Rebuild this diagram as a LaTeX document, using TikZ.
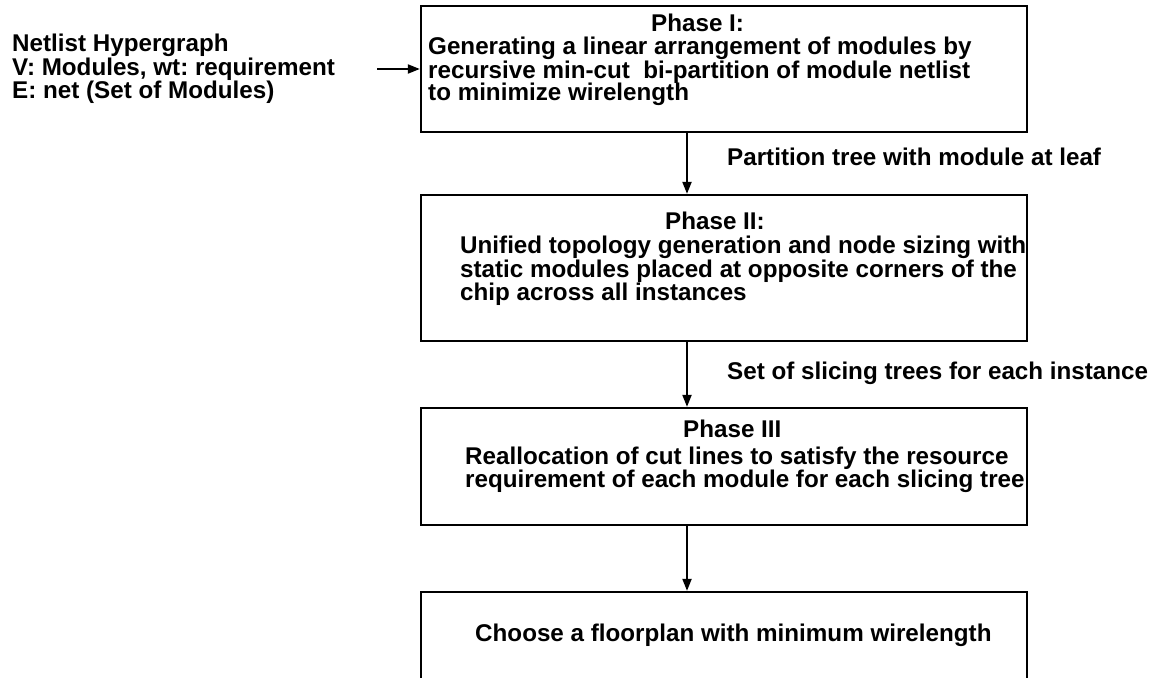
\documentclass[tikz,border=0pt]{standalone}
\usepackage{fontspec}
\setmainfont{Liberation Sans}
\usetikzlibrary{arrows.meta}
\frenchspacing

\tikzset{
  stagebox/.style={draw, line width=2.3pt, minimum width=606pt, inner sep=0pt},
  txt/.style={anchor=base west, inner sep=0pt, font=\bfseries\fontsize{24.2}{23}\selectfont},
  arr/.style={-{Triangle[length=12pt,width=9pt]}, line width=2pt},
}

\begin{document}
\begin{tikzpicture}[x=1pt, y=-1pt]
  \useasboundingbox (0,0) rectangle (1158,677);

  % stage boxes
  \node[stagebox, minimum height=126pt] (b1) at (724,69) {};
  \node[stagebox, minimum height=146pt] (b2) at (724,268) {};
  \node[stagebox, minimum height=117pt] (b3) at (724,466.5) {};
  \node[stagebox, minimum height=110pt] (b4) at (724,647) {};

  % input description
  \node[txt] (in1) at (12,52) {Netlist Hypergraph};
  \node[txt] (in2) at (12,75) {V: Modules, wt: requirement};
  \node[txt] (in3) at (12,98) {E: net (Set of Modules)};

  % phase I
  \node[txt] (p1h) at (651,32) {Phase I:};
  \node[txt] (p1a) at (428,55) {Generating a linear arrangement of modules by};
  \node[txt] (p1b) at (428,78) {recursive min-cut\ \ bi-partition of module netlist};
  \node[txt] (p1c) at (428,100) {to minimize wirelength};

  % phase II
  \node[txt] (p2h) at (665,229) {Phase II:};
  \node[txt] (p2a) at (460,253) {Unified topology generation and node sizing with};
  \node[txt] (p2b) at (460,277) {static modules placed at opposite corners of the};
  \node[txt] (p2c) at (460,300) {chip across all instances};

  % phase III
  \node[txt] (p3h) at (683,437) {Phase III};
  \node[txt] (p3a) at (465,464) {Reallocation of cut lines to satisfy the resource};
  \node[txt] (p3b) at (465,487) {requirement of each module for each slicing tree};

  % final step
  \node[txt] (p4) at (475,641) {Choose a floorplan with minimum wirelength};

  % edge labels
  \node[txt] (l1) at (727,165) {Partition tree with module at leaf};
  \node[txt] (l2) at (727,379) {Set of slicing trees for each instance};

  % connectors
  \coordinate (src) at (377,69);
  \coordinate (ax) at (687,0);
  \draw[arr] (src) -- (b1.west);
  \draw[arr] (b1.south -| ax) -- (b2.north -| ax);
  \draw[arr] (b2.south -| ax) -- (b3.north -| ax);
  \draw[arr] (b3.south -| ax) -- (b4.north -| ax);
\end{tikzpicture}
\end{document}
